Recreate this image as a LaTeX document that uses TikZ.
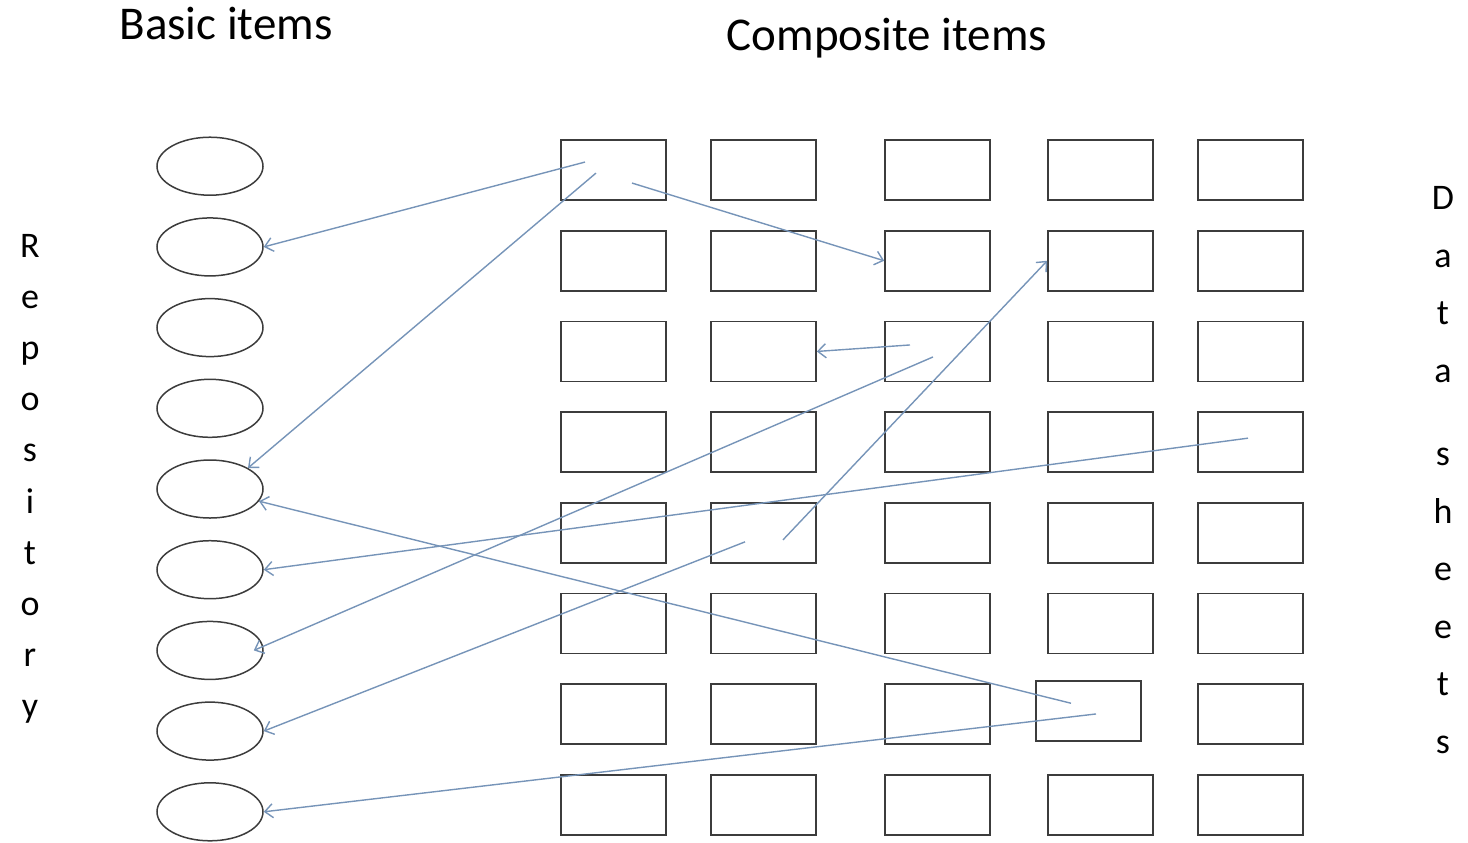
\documentclass[tikz,border=0pt]{standalone}
\usepackage{fontspec}
\setmainfont{Carlito}
\usepackage{tikz}
\usetikzlibrary{matrix, arrows.meta, shapes}
\definecolor{linkblue}{RGB}{118,148,184}
\definecolor{edgegray}{RGB}{60,60,60}
\tikzset{ 
	itemgrid/.style={
		matrix of nodes,
		row sep=14.55pt,
		column sep=21.7pt,
		nodes={rectangle, draw=edgegray, line width=0.8pt, inner sep=0pt,
			minimum width=52.5pt, minimum height=30pt},
		nodes in empty cells
	},
	basiccol/.style={
		matrix of nodes,
		row sep=10.6pt,
		nodes={ellipse, draw=edgegray, line width=0.75pt, inner sep=0pt,
			minimum width=53pt, minimum height=29pt},
		nodes in empty cells
	},
	link/.style={draw=linkblue, line width=0.7pt, -{Straight Barb[length=4pt,width=7pt]}},
}
\tikzset{title/.style={font=\fontsize{23.5}{28}\selectfont, inner sep=0pt, anchor=base}}
\tikzset{side/.style={font=\fontsize{18}{25.55}\selectfont, align=center, inner sep=0pt, anchor=north}}

\begin{document}
\begin{tikzpicture}[x=0.5pt, y=-0.5pt]
	\useasboundingbox (0,0) rectangle (1468,842);
	\node[title] (basic) at (226,39) {Basic items};
	\node[title] (composite) at (887,50) {Composite items};
	\node[side] (repo) at (30,234) {R\\e\\p\\o\\s\\i\\t\\o\\r\\y};
	\node[side, font=\fontsize{18}{28.75}\selectfont] (sheets) at (1443,186) {D\\a\\t\\a\\[13pt]s\\h\\e\\e\\t\\s};
	% the basic items
	\matrix (rep) [basiccol] at (210,489)
	{
		\\ \\ \\ \\ \\ \\ \\ \\ \\
	};
	% the composite items
	\matrix (mat) [itemgrid] at (932,487.5)
	{
		& &[12pt] &[0.5pt] & \\
		& & & & \\
		& & & & \\
		& & & & \\
		& & & & \\
		& & & & \\[-1.5pt]
		& & & |[xshift=-6pt, yshift=1.5pt]| & \\
		& & & & \\
	};
	\draw[link] ([shift={(-14.25pt,4pt)}]mat-1-1.center) -- (rep-2-1.east);
	\draw[link] ([shift={(-8.75pt,-1.5pt)}]mat-1-1.center) -- (rep-5-1.north east);
	\draw[link] ([shift={(9.25pt,-6.5pt)}]mat-1-1.center) -- (mat-2-3.west);
	\draw[link] ([shift={(-13.75pt,3.25pt)}]mat-3-3.center) -- (mat-3-2.east);
	\draw[link] ([shift={(-2.25pt,-2.75pt)}]mat-3-3.center) -- ([xshift=-5pt]rep-7-1.east);
	\draw[link] ([shift={(9.75pt,-3.5pt)}]mat-5-2.center) -- (mat-2-4.west);
	\draw[link] ([shift={(-1.25pt,2pt)}]mat-4-5.center) -- (rep-6-1.east);
	\draw[link] ([shift={(-9.25pt,-4.5pt)}]mat-5-2.center) -- (rep-8-1.east);
	\draw[link] ([shift={(-8.75pt,4pt)}]mat-7-4.center) -- (rep-5-1);
	\draw[link] ([shift={(3.75pt,-1.35pt)}]mat-7-4.center) -- (rep-9-1.east);
\end{tikzpicture}
\end{document}
